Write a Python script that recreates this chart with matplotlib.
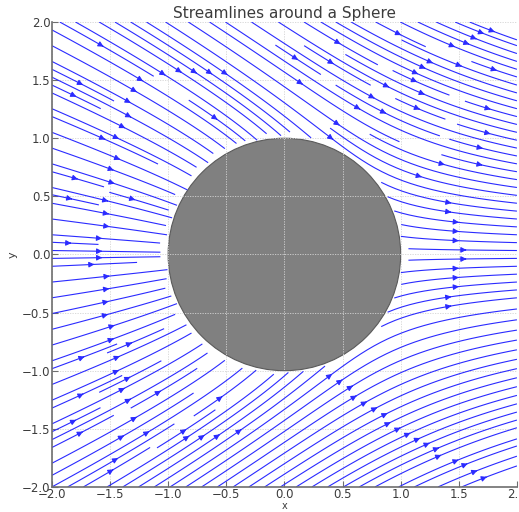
import numpy as np
import matplotlib
matplotlib.use("Agg")
import matplotlib.pyplot as plt
from matplotlib.patches import Circle

# flow parameters
U_inf = 1.0      # free stream speed
R = 1.0          # sphere radius
A = 0.3          # radial coupling
B = 0.6          # tangential coupling

x_lim = [-2.0, 2.0]
y_lim = [-2.0, 2.0]
ticks = [-2.0, -1.5, -1.0, -0.5, 0.0, 0.5, 1.0, 1.5, 2.0]

# grid
x = np.linspace(x_lim[0], x_lim[1], 200)
y = np.linspace(y_lim[0], y_lim[1], 200)
X, Y = np.meshgrid(x, y)
r = np.sqrt(X**2 + Y**2)
theta = np.arctan2(Y, X)

# polar velocity components around the sphere
u_r = U_inf * (1 - R**3 / r**3) * np.cos(theta)
u_t = -U_inf * (1 + R**3 / (2 * r**3)) * np.sin(theta)
u = U_inf + A * u_r
v = B * u_t

# no flow inside the sphere
inside = r < R
u = np.ma.array(u, mask=inside)
v = np.ma.array(v, mask=inside)

fig = plt.figure(figsize=(5.19, 5.12), dpi=100)
ax = fig.add_axes([0.100, 0.049, 0.896, 0.908])

ax.streamplot(X, Y, u, v, color='#2b2bff', linewidth=0.8, density=2, arrowsize=0.8)

ax.add_patch(Circle((0, 0), R, facecolor='#808080', edgecolor='#5a5a5a', linewidth=0.8))

ax.set_xlim(x_lim)
ax.set_ylim(y_lim)
ax.set_xticks(ticks)
ax.set_yticks(ticks)
ax.grid(True, color='#d4d4d4', linestyle=(0, (1.5, 1.5)), linewidth=0.6)

for side in ['top', 'right']:
    ax.spines[side].set_visible(False)
for side in ['left', 'bottom']:
    ax.spines[side].set_color('#6e6e6e')
    ax.spines[side].set_linewidth(1.2)
ax.tick_params(direction='in', length=4, pad=1, color='#6e6e6e', labelcolor='#3c3c3c', labelsize=8.5)

ax.set_title('Streamlines around a Sphere', fontsize=11, color='#3c3c3c', pad=3)
ax.set_xlabel('x', fontsize=7, color='#3c3c3c')
ax.xaxis.set_label_coords(0.5, -0.031)
ax.set_ylabel('y', fontsize=8, color='#3c3c3c', labelpad=3)

fig.savefig('out.png', dpi=100)
